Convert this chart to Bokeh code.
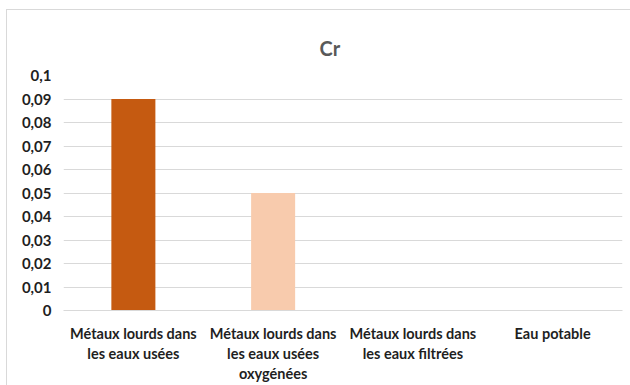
from bokeh.plotting import figure
from bokeh.models import FixedTicker, Range1d
from bokeh.embed import file_html
from bokeh.resources import INLINE

# Chromium (Cr) concentration per water sample
categories = [
    "Métaux lourds dans\nles eaux usées",
    "Métaux lourds dans\nles eaux usées\noxygénées",
    "Métaux lourds dans\nles eaux filtrées",
    "Eau potable",
]
values = [0.09, 0.05, 0.0, 0.0]
colors = ["#C55A11", "#F8CBAD", "#A9D18E", "#9DC3E6"]

y_ticks = [0.0, 0.01, 0.02, 0.03, 0.04, 0.05, 0.06, 0.07, 0.08, 0.09, 0.1]
y_tick_labels = ["0", "0,01", "0,02", "0,03", "0,04", "0,05",
                 "0,06", "0,07", "0,08", "0,09", "0,1"]

FONT = "Lato"
TEXT = "#1F1F1F"

p = figure(
    x_range=categories,
    y_range=Range1d(0, 0.1),
    width=623, height=375,
    output_backend="svg", toolbar_location=None,
    min_border_left=56, min_border_right=8,
    min_border_top=65, min_border_bottom=74,
    title="Cr",
)
p.margin = (10, 0, 0, 7)
p.styles = {"outline": "1px solid #D9D9D9"}
p.outline_line_color = None
p.background_fill_color = "white"
p.border_fill_color = "white"

p.title.align = "left"
p.title.offset = 256
p.title.standoff = 32
p.title.text_font = FONT
p.title.text_font_style = "bold"
p.title.text_font_size = "20px"
p.title.text_color = "#595959"

p.vbar(x=categories, top=values, width=0.315, fill_color=colors, line_color=None)

# y axis
p.yaxis.ticker = FixedTicker(ticks=y_ticks)
p.yaxis.major_label_overrides = dict(zip(y_ticks, y_tick_labels))
p.yaxis.axis_line_color = None
p.yaxis.major_tick_line_color = None
p.yaxis.minor_tick_line_color = None
p.yaxis.major_label_text_font = FONT
p.yaxis.major_label_text_font_style = "bold"
p.yaxis.major_label_text_font_size = "15px"
p.yaxis.major_label_text_color = TEXT
p.yaxis.major_label_standoff = 6

# x axis
p.xaxis.axis_line_color = "#D9D9D9"
p.xaxis.major_tick_line_color = None
p.xaxis.minor_tick_line_color = None
p.xaxis.major_label_text_font = FONT
p.xaxis.major_label_text_font_style = "bold"
p.xaxis.major_label_text_font_size = "14.5px"
p.xaxis.major_label_text_color = TEXT
p.xaxis.major_label_standoff = 8

p.xgrid.grid_line_color = None
p.ygrid.grid_line_color = "#D9D9D9"
p.ygrid.grid_line_width = 1

open("out.html", "w").write(file_html(p, INLINE))
